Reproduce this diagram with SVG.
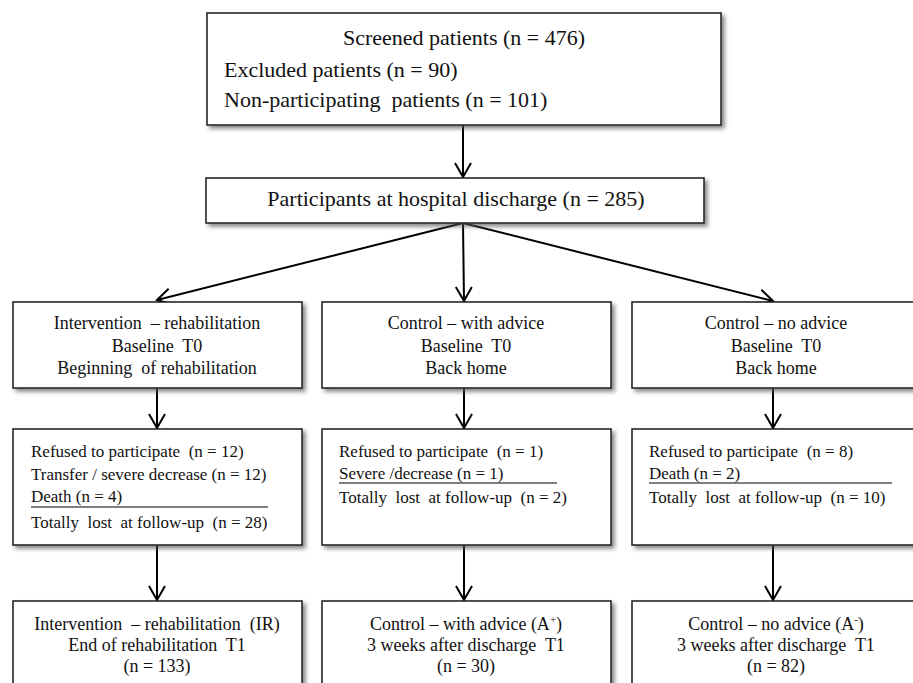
<svg xmlns="http://www.w3.org/2000/svg" width="913" height="683" viewBox="0 0 913 683">
<defs>
<filter id="sh" x="-5%" y="-5%" width="115%" height="130%">
<feDropShadow dx="3" dy="3" stdDeviation="2" flood-color="#555" flood-opacity="0.7"/>
</filter>
<marker id="ar" markerUnits="userSpaceOnUse" markerWidth="20" markerHeight="20" refX="15" refY="10" orient="auto" viewBox="0 0 20 20">
<path d="M1,2 L15,10 L1,18" fill="none" stroke="#000" stroke-width="2"/>
</marker>
<style>
.box{fill:#fff;stroke:#1a1a1a;stroke-width:1.5;filter:url(#sh)}
.t{font-family:"Liberation Serif","Times New Roman",serif;fill:#111;white-space:pre}
.big{font-size:22px}
.mid{font-size:18px}
.sm{font-size:17px}
.c{text-anchor:middle}
.con{stroke:#000;stroke-width:2;fill:none;marker-end:url(#ar)}
.sep{stroke:#000;stroke-width:1.2}
</style>
</defs>
<rect width="913" height="683" fill="#fff"/>
<g id="connectors">
<line class="con" x1="463" y1="125" x2="463" y2="177"/>
<line class="con" x1="463" y1="223" x2="157" y2="300"/>
<line class="con" x1="463" y1="223" x2="464" y2="301"/>
<line class="con" x1="463" y1="223" x2="773" y2="301"/>
<line class="con" x1="157" y1="388" x2="157" y2="428"/>
<line class="con" x1="464" y1="388" x2="464" y2="428"/>
<line class="con" x1="773" y1="388" x2="773" y2="428"/>
<line class="con" x1="157" y1="545" x2="157" y2="600"/>
<line class="con" x1="464" y1="545" x2="464" y2="600"/>
<line class="con" x1="773" y1="545" x2="773" y2="600"/>
</g>
<g id="screened">
<rect class="box" x="207" y="13" width="514" height="112"/>
<text class="t big c" x="464" y="45">Screened patients (n = 476)</text>
<text class="t big" x="224" y="77">Excluded patients (n = 90)</text>
<text class="t big" x="224" y="107">Non-participating  patients (n = 101)</text>
</g>
<g id="participants">
<rect class="box" x="206" y="178" width="498" height="45"/>
<text class="t big c" x="456" y="206">Participants at hospital discharge (n = 285)</text>
</g>
<g id="base-ir">
<rect class="box" x="13" y="302" width="289" height="86"/>
<text class="t mid c" x="157" y="329">Intervention  – rehabilitation</text>
<text class="t mid c" x="157" y="352">Baseline  T0</text>
<text class="t mid c" x="157" y="374">Beginning  of rehabilitation</text>
</g>
<g id="base-ap">
<rect class="box" x="322" y="302" width="289" height="86"/>
<text class="t mid c" x="466" y="329">Control – with advice</text>
<text class="t mid c" x="466" y="352">Baseline  T0</text>
<text class="t mid c" x="466" y="374">Back home</text>
</g>
<g id="base-am">
<rect class="box" x="632" y="302" width="289" height="86"/>
<text class="t mid c" x="776" y="329">Control – no advice</text>
<text class="t mid c" x="776" y="352">Baseline  T0</text>
<text class="t mid c" x="776" y="374">Back home</text>
</g>
<g id="loss-ir">
<rect class="box" x="13" y="429" width="289" height="116"/>
<text class="t sm" x="31" y="457">Refused to participate  (n = 12)</text>
<text class="t sm" x="31" y="480">Transfer / severe decrease (n = 12)</text>
<text class="t sm" x="31" y="502">Death (n = 4)</text>
<line class="sep" x1="31" y1="507" x2="268" y2="507"/>
<text class="t sm" x="31" y="528">Totally  lost  at follow-up  (n = 28)</text>
</g>
<g id="loss-ap">
<rect class="box" x="322" y="429" width="289" height="116"/>
<text class="t sm" x="339" y="457">Refused to participate  (n = 1)</text>
<text class="t sm" x="339" y="479">Severe /decrease (n = 1)</text>
<line class="sep" x1="339" y1="483" x2="557" y2="483"/>
<text class="t sm" x="339" y="503">Totally  lost  at follow-up  (n = 2)</text>
</g>
<g id="loss-am">
<rect class="box" x="632" y="429" width="289" height="116"/>
<text class="t sm" x="649" y="457">Refused to participate  (n = 8)</text>
<text class="t sm" x="649" y="479">Death (n = 2)</text>
<line class="sep" x1="649" y1="483" x2="892" y2="483"/>
<text class="t sm" x="649" y="503">Totally  lost  at follow-up  (n = 10)</text>
</g>
<g id="end-ir">
<rect class="box" x="13" y="601" width="289" height="100"/>
<text class="t mid c" x="157" y="630">Intervention  – rehabilitation  (IR)</text>
<text class="t mid c" x="157" y="651">End of rehabilitation  T1</text>
<text class="t mid c" x="157" y="672">(n = 133)</text>
</g>
<g id="end-ap">
<rect class="box" x="322" y="601" width="289" height="100"/>
<text class="t mid c" x="466" y="630">Control – with advice (A<tspan font-size="11" dy="-7">+</tspan><tspan dy="7">)</tspan></text>
<text class="t mid c" x="466" y="651">3 weeks after discharge  T1</text>
<text class="t mid c" x="466" y="672">(n = 30)</text>
</g>
<g id="end-am">
<rect class="box" x="632" y="601" width="289" height="100"/>
<text class="t mid c" x="776" y="630">Control – no advice (A<tspan font-size="11" dy="-7">-</tspan><tspan dy="7">)</tspan></text>
<text class="t mid c" x="776" y="651">3 weeks after discharge  T1</text>
<text class="t mid c" x="776" y="672">(n = 82)</text>
</g>
</svg>
